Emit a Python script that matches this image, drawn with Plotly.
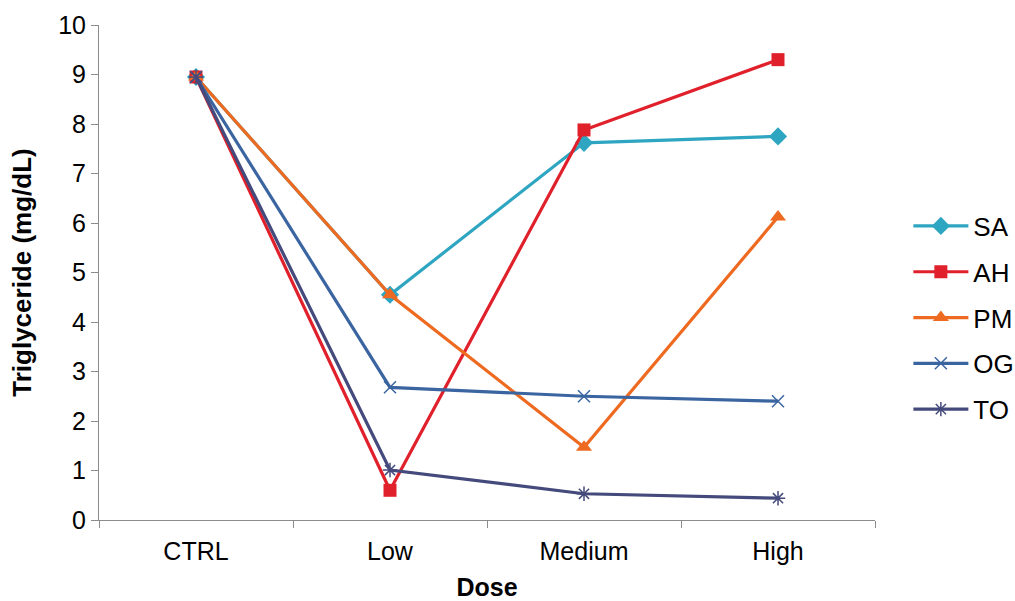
import plotly.graph_objects as go

doses = ["CTRL", "Low", "Medium", "High"]
sa = [8.95, 4.55, 7.62, 7.75]
ah = [8.95, 0.60, 7.88, 9.30]
pm = [8.95, 4.55, 1.47, 6.12]
og = [8.95, 2.68, 2.50, 2.40]
to = [8.95, 1.01, 0.53, 0.44]

series = [
    ("SA", sa, "#2EA5C1", dict(symbol="diamond", size=14)),
    ("AH", ah, "#E0202B", dict(symbol="square", size=13)),
    ("PM", pm, "#EE6A20", dict(symbol="triangle-up", size=14)),
    ("OG", og, "#3A65A0", dict(symbol="x-thin-open", size=12, line=dict(width=1.5, color="#3A65A0"))),
    ("TO", to, "#444A7C", dict(symbol="asterisk-open", size=12, line=dict(width=1.5, color="#444A7C"))),
]

FAM = "Liberation Sans, Arial, sans-serif"
fig = go.Figure()
for name, vals, col, mk in series:
    mk = dict(mk)
    mk["color"] = col
    fig.add_trace(go.Scatter(x=doses, y=vals, name=name, mode="lines+markers", legendgroup=name,
                             line=dict(color=col, width=3.2), marker=mk))

axfont = dict(family=FAM, size=25, color="black")
fig.update_layout(
    width=1015, height=601,
    margin=dict(l=99, r=140, t=25, b=81, autoexpand=False),
    plot_bgcolor="white", paper_bgcolor="white",
    font=axfont,
    legend=dict(x=1.043, y=0.408, xanchor="left", yanchor="middle",
                font=dict(family=FAM, size=26, color="black"),
                tracegroupgap=9, itemwidth=55, bgcolor="rgba(0,0,0,0)"),
    xaxis=dict(type="category", range=[-0.5, 3.5], showline=True, linecolor="#8C8C8C",
               linewidth=1, ticks="outside", tickson="boundaries", ticklen=7,
               tickcolor="#8C8C8C", showgrid=False, zeroline=False,
               tickfont=axfont, ticklabelstandoff=9,
               title=dict(text="<b>Dose</b>", font=dict(family=FAM, size=25), standoff=24)),
    yaxis=dict(range=[0, 10], dtick=1, showline=True, linecolor="#8C8C8C", linewidth=1,
               ticks="outside", ticklen=7, tickcolor="#8C8C8C", showgrid=False, zeroline=False,
               tickfont=axfont,
               title=dict(text="<b>Triglyceride (mg/dL)</b>", font=dict(family=FAM, size=26), standoff=19)),
)
fig.write_html("out.html")
